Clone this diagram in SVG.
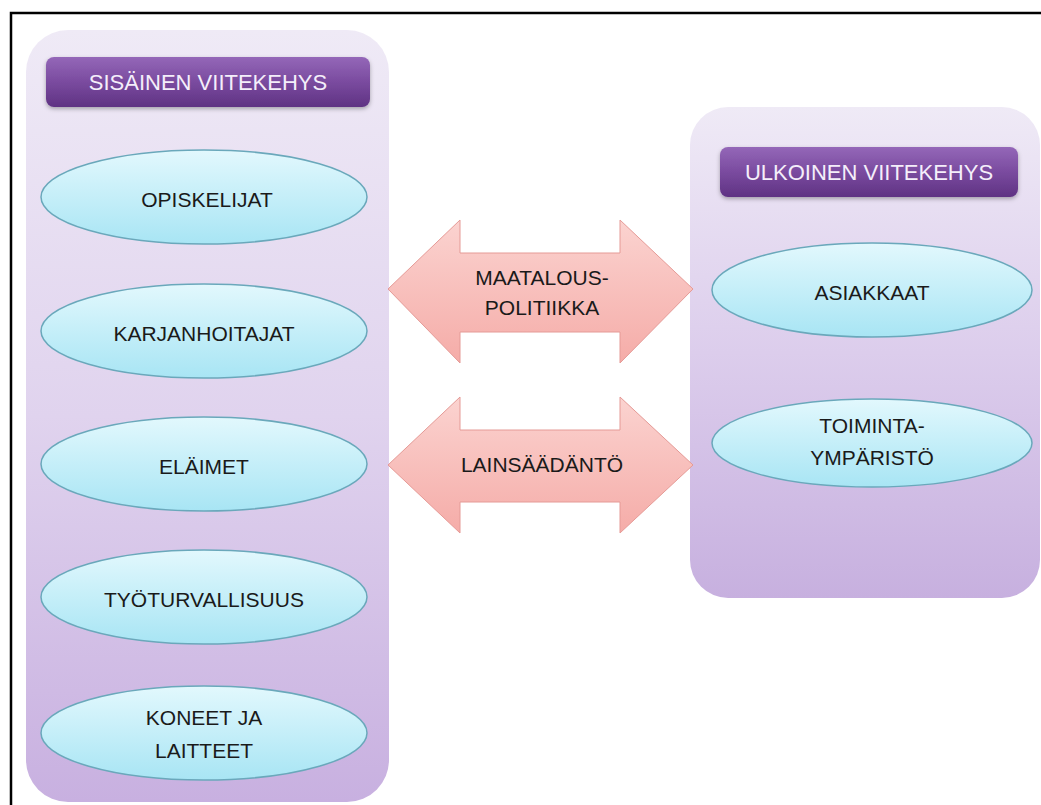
<svg xmlns="http://www.w3.org/2000/svg" width="1041" height="805" viewBox="0 0 1041 805">
  <defs>
    <linearGradient id="panelL" x1="0" y1="0" x2="0" y2="1">
      <stop offset="0" stop-color="#efeaf6"/>
      <stop offset="0.5" stop-color="#e0d3ee"/>
      <stop offset="1" stop-color="#c8b0e0"/>
    </linearGradient>
    <linearGradient id="panelR" x1="0" y1="0" x2="0" y2="1">
      <stop offset="0" stop-color="#efeaf6"/>
      <stop offset="0.5" stop-color="#dccdec"/>
      <stop offset="1" stop-color="#c7b0df"/>
    </linearGradient>
    <linearGradient id="title" x1="0" y1="0" x2="0" y2="1">
      <stop offset="0" stop-color="#9467b8"/>
      <stop offset="0.5" stop-color="#7a4b9f"/>
      <stop offset="1" stop-color="#5f3283"/>
    </linearGradient>
    <linearGradient id="oval" x1="0" y1="0" x2="0" y2="1">
      <stop offset="0" stop-color="#e2f8fd"/>
      <stop offset="1" stop-color="#a8e5f4"/>
    </linearGradient>
    <linearGradient id="arrow" x1="0" y1="0" x2="0" y2="1">
      <stop offset="0" stop-color="#fbd3d0"/>
      <stop offset="1" stop-color="#f5aca8"/>
    </linearGradient>
    <filter id="sh" x="-10%" y="-10%" width="120%" height="130%">
      <feDropShadow dx="0" dy="2" stdDeviation="2" flood-color="#000" flood-opacity="0.3"/>
    </filter>
  </defs>
  <style>
    .frame { fill: none; stroke: #000; stroke-width: 2.5; }
    .title { fill: url(#title); filter: url(#sh); }
    .ttxt { font-family: "Liberation Sans", "DejaVu Sans", sans-serif; font-size: 22px; fill: #f4eefa; text-anchor: middle; }
    .oval { fill: url(#oval); stroke: #6aa8bb; stroke-width: 1.5; }
    .otxt { font-family: "Liberation Sans", "DejaVu Sans", sans-serif; font-size: 21px; fill: #1a1a1a; text-anchor: middle; }
    .arr { fill: url(#arrow); stroke: #e59a96; stroke-width: 1; }
  </style>
  <rect width="1041" height="805" fill="#ffffff"/>
  <path class="frame" d="M11 805 V13 H1041"/>

  <g id="panel-left">
    <rect x="26" y="30" width="363" height="772" rx="42" fill="url(#panelL)"/>
  </g>
  <g id="panel-right">
    <rect x="690" y="107" width="350" height="491" rx="38" fill="url(#panelR)"/>
  </g>

  <g id="title-left">
    <rect class="title" x="46" y="57" width="324" height="50" rx="8"/>
    <text class="ttxt" x="208" y="90">SISÄINEN VIITEKEHYS</text>
  </g>
  <g id="title-right">
    <rect class="title" x="720" y="147" width="298" height="50" rx="8"/>
    <text class="ttxt" x="869" y="180">ULKOINEN VIITEKEHYS</text>
  </g>

  <g id="connectors">
    <g id="arrow-maatalous">
      <path class="arr" d="M388 289 L460 220 V253 H620 V220 L693 289 L620 363 V332 H460 V363 Z"/>
      <text class="otxt" x="542" y="285">MAATALOUS-</text>
      <text class="otxt" x="542" y="315">POLITIIKKA</text>
    </g>
    <g id="arrow-lainsaadanto">
      <path class="arr" d="M388 465 L460 397 V430 H620 V397 L693 465 L620 533 V502 H460 V533 Z"/>
      <text class="otxt" x="542" y="472">LAINSÄÄDÄNTÖ</text>
    </g>
  </g>

  <g id="n-opiskelijat">
    <ellipse class="oval" cx="204" cy="197" rx="163" ry="47"/>
    <text class="otxt" x="207" y="207">OPISKELIJAT</text>
  </g>
  <g id="n-karjanhoitajat">
    <ellipse class="oval" cx="204" cy="331" rx="163" ry="47"/>
    <text class="otxt" x="204" y="341">KARJANHOITAJAT</text>
  </g>
  <g id="n-elaimet">
    <ellipse class="oval" cx="204" cy="464" rx="163" ry="47"/>
    <text class="otxt" x="204" y="474">ELÄIMET</text>
  </g>
  <g id="n-tyoturvallisuus">
    <ellipse class="oval" cx="204" cy="597" rx="163" ry="47"/>
    <text class="otxt" x="204" y="607">TYÖTURVALLISUUS</text>
  </g>
  <g id="n-koneet">
    <ellipse class="oval" cx="204" cy="733" rx="163" ry="47"/>
    <text class="otxt" x="204" y="725">KONEET JA</text>
    <text class="otxt" x="204" y="758">LAITTEET</text>
  </g>
  <g id="n-asiakkaat">
    <ellipse class="oval" cx="872" cy="290" rx="160" ry="47"/>
    <text class="otxt" x="872" y="300">ASIAKKAAT</text>
  </g>
  <g id="n-toimintaymparisto">
    <ellipse class="oval" cx="872" cy="443" rx="160" ry="44"/>
    <text class="otxt" x="872" y="433">TOIMINTA-</text>
    <text class="otxt" x="872" y="465">YMPÄRISTÖ</text>
  </g>
</svg>
